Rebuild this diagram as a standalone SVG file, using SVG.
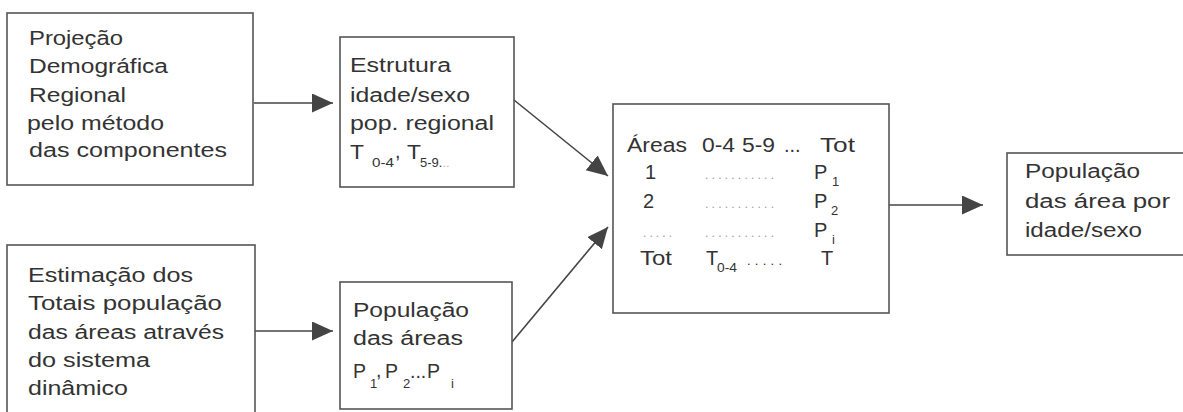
<svg xmlns="http://www.w3.org/2000/svg" width="1183" height="412" viewBox="0 0 1183 412">
<style>
.box{fill:#fff;stroke:#555;stroke-width:1.6}
.t{font-family:"Liberation Sans",Arial,sans-serif;font-size:19.5px;fill:#333}
.t3{font-family:"Liberation Sans",Arial,sans-serif;font-size:20px;fill:#333}
.sub{font-family:"Liberation Sans",Arial,sans-serif;font-size:13px;fill:#333}
.dots{font-family:"Liberation Sans",Arial,sans-serif;font-size:12px;fill:#9a9a9a}
.conn{stroke:#444;stroke-width:1.6;fill:none;marker-end:url(#ah)}
</style>
<defs>
<marker id="ah" markerUnits="userSpaceOnUse" markerWidth="22" markerHeight="20" refX="21" refY="9.5" orient="auto">
<path d="M0,0 L21,9.5 L0,19 z" fill="#444"/>
</marker>
</defs>
<rect width="1183" height="412" fill="#fff"/>
<g id="connectors">
<line class="conn" x1="254" y1="103" x2="333" y2="103"/>
<line class="conn" x1="514" y1="100" x2="608" y2="176"/>
<line class="conn" x1="512" y1="342" x2="608" y2="227"/>
<line class="conn" x1="255" y1="331" x2="333" y2="331"/>
<line class="conn" x1="889" y1="205" x2="983" y2="205"/>
</g>
<g id="n1">
<rect class="box" x="7" y="13" width="246" height="172"/>
<text class="t" x="29" y="45" textLength="94" lengthAdjust="spacingAndGlyphs">Projeção</text>
<text class="t" x="29" y="73" textLength="139" lengthAdjust="spacingAndGlyphs">Demográfica</text>
<text class="t" x="29" y="102" textLength="97" lengthAdjust="spacingAndGlyphs">Regional</text>
<text class="t" x="27" y="130" textLength="137" lengthAdjust="spacingAndGlyphs">pelo método</text>
<text class="t" x="29" y="157" textLength="198" lengthAdjust="spacingAndGlyphs">das  componentes</text>
</g>
<g id="n2">
<rect class="box" x="340" y="37" width="174" height="150"/>
<text class="t" x="350" y="72" textLength="101" lengthAdjust="spacingAndGlyphs">Estrutura</text>
<text class="t" x="350" y="102" textLength="120" lengthAdjust="spacingAndGlyphs">idade/sexo</text>
<text class="t" x="350" y="130" textLength="144" lengthAdjust="spacingAndGlyphs">pop.  regional</text>
<text class="t" x="350" y="159" textLength="14" lengthAdjust="spacingAndGlyphs">T</text>
<text class="sub" x="372" y="167" textLength="22" lengthAdjust="spacingAndGlyphs">0-4</text>
<text class="t" x="395" y="158">,</text>
<text class="t" x="407" y="159" textLength="14" lengthAdjust="spacingAndGlyphs">T</text>
<text class="sub" x="420" y="167">5-9.<tspan fill="#bbb">..</tspan></text>
</g>
<g id="n3">
<rect class="box" x="613" y="104" width="276" height="209"/>
<text class="t3" x="627" y="152" textLength="60" lengthAdjust="spacingAndGlyphs">Áreas</text>
<text class="t3" x="702" y="152" textLength="33" lengthAdjust="spacingAndGlyphs">0-4</text>
<text class="t3" x="742" y="152" textLength="33" lengthAdjust="spacingAndGlyphs">5-9</text>
<text class="t3" x="784" y="152">...</text>
<text class="t3" x="820" y="152" textLength="35" lengthAdjust="spacingAndGlyphs">Tot</text>
<text class="t3" x="645" y="179">1</text>
<text class="dots" x="705" y="179" textLength="69" lengthAdjust="spacing">...........</text>
<text class="t3" x="814" y="179">P</text>
<text class="sub" x="832" y="186">1</text>
<text class="t3" x="643" y="208">2</text>
<text class="dots" x="705" y="208" textLength="69" lengthAdjust="spacing">...........</text>
<text class="t3" x="814" y="208">P</text>
<text class="sub" x="831" y="215">2</text>
<text class="dots" x="643" y="237" textLength="29" lengthAdjust="spacing">.....</text>
<text class="dots" x="705" y="237" textLength="69" lengthAdjust="spacing">...........</text>
<text class="t3" x="814" y="237">P</text>
<text class="sub" x="832" y="244">i</text>
<text class="t3" x="640" y="265" textLength="32" lengthAdjust="spacingAndGlyphs">Tot</text>
<text class="t3" x="706" y="265">T</text>
<text class="sub" x="717" y="272" textLength="20" lengthAdjust="spacingAndGlyphs">0-4</text>
<text class="sub" x="747" y="265" textLength="35" lengthAdjust="spacing" fill="#555">.....</text>
<text class="t3" x="821" y="265">T</text>
</g>
<g id="n4">
<rect class="box" x="1007" y="153" width="180" height="102"/>
<text class="t" x="1025" y="178" textLength="115" lengthAdjust="spacingAndGlyphs">População</text>
<text class="t" x="1025" y="208" textLength="145" lengthAdjust="spacingAndGlyphs">das  área por</text>
<text class="t" x="1025" y="237" textLength="117" lengthAdjust="spacingAndGlyphs">idade/sexo</text>
</g>
<g id="n5">
<rect class="box" x="7" y="245" width="248" height="175"/>
<text class="t" x="28" y="282" textLength="165" lengthAdjust="spacingAndGlyphs">Estimação  dos</text>
<text class="t" x="28" y="310" textLength="194" lengthAdjust="spacingAndGlyphs">Totais  população</text>
<text class="t" x="28" y="339" textLength="196" lengthAdjust="spacingAndGlyphs">das áreas através</text>
<text class="t" x="28" y="367" textLength="122" lengthAdjust="spacingAndGlyphs">do  sistema</text>
<text class="t" x="28" y="395" textLength="100" lengthAdjust="spacingAndGlyphs">dinâmico</text>
</g>
<g id="n6">
<rect class="box" x="340" y="282" width="172" height="127"/>
<text class="t" x="353" y="317" textLength="116" lengthAdjust="spacingAndGlyphs">População</text>
<text class="t" x="353" y="345" textLength="110" lengthAdjust="spacingAndGlyphs">das  áreas</text>
<text class="t" x="353" y="378">P</text>
<text class="sub" x="370" y="388">1</text>
<text class="t" x="376" y="377">,</text>
<text class="t" x="385" y="378">P</text>
<text class="sub" x="403" y="388">2</text>
<text class="t" x="410" y="378" font-size="14">...</text>
<text class="t" x="427" y="378">P</text>
<text class="sub" x="451" y="388">i</text>
</g>
</svg>
